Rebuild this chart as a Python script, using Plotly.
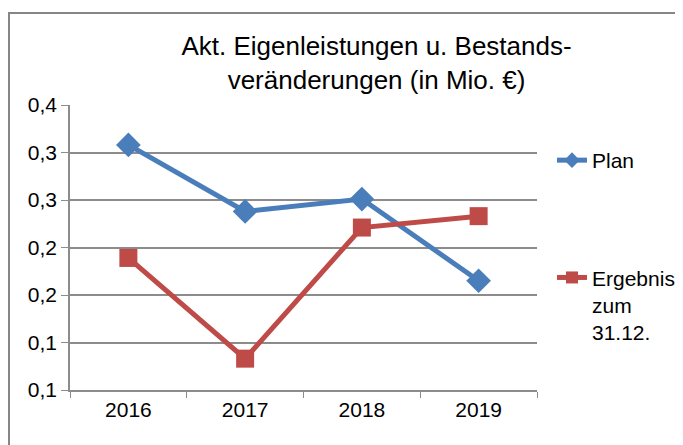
import plotly.graph_objects as go

years = ["2016", "2017", "2018", "2019"]
plan = [0.358, 0.288, 0.301, 0.215]
ergebnis = [0.239, 0.133, 0.271, 0.283]
y_tickvals = [0.10, 0.15, 0.20, 0.25, 0.30, 0.35, 0.40]
y_ticktext = ["0,1", "0,1", "0,2", "0,2", "0,3", "0,3", "0,4"]

blue = "#4A7EBB"
red = "#BE4B48"
grid = "#8C8C8C"

fig = go.Figure()
fig.add_trace(go.Scatter(
    x=years, y=plan, name="Plan", mode="lines+markers",
    line=dict(color=blue, width=5),
    marker=dict(symbol="diamond", size=19, color=blue),
    legendgroup="a",
))
fig.add_trace(go.Scatter(
    x=years, y=ergebnis, name="Ergebnis<br>zum<br>31.12.", mode="lines+markers",
    line=dict(color=red, width=5),
    marker=dict(symbol="square", size=18, color=red),
    legendgroup="b",
))

# page body has an 8px margin; the figure is a bit wider than the window so the
# legend has room without shrinking the plot area
OFF = 8
W, H = 705, 445 - OFF
L, T, B = 70 - OFF, 105 - OFF, 55
pw = 467
R = W - L - pw
ph = H - T - B


def px(x):  # screen x -> paper
    return (x - OFF - L) / pw


def py(y):  # screen y -> paper
    return (H - B - (y - OFF)) / ph


fig.update_layout(
    width=W, height=H,
    margin=dict(l=L, r=R, t=T, b=B),
    paper_bgcolor="white", plot_bgcolor="white",
    font=dict(family="Liberation Sans, Arial, sans-serif", size=21, color="black"),
    title=dict(
        text="Akt. Eigenleistungen u. Bestands-<br>veränderungen (in Mio. €)",
        x=px(376.5), xref="paper", xanchor="center",
        y=1 - (55 - OFF) / H, yanchor="middle",
        font=dict(size=26, color="black"),
    ),
    showlegend=True,
    legend=dict(
        x=px(552), y=py(140), xanchor="left", yanchor="top",
        font=dict(size=21), valign="top",
        tracegroupgap=87, bgcolor="rgba(0,0,0,0)",
        itemsizing="constant",
    ),
    xaxis=dict(
        type="category", range=[-0.5, 3.5],
        showgrid=False, showline=True, linecolor=grid, linewidth=1.5,
        ticks="outside", tickson="boundaries", ticklen=6, tickcolor=grid,
        tickfont=dict(size=21), zeroline=False,
    ),
    yaxis=dict(
        range=[0.10, 0.40], tickvals=y_tickvals, ticktext=y_ticktext,
        showgrid=True, gridcolor=grid, gridwidth=1.5,
        showline=True, linecolor=grid, linewidth=1.5,
        ticks="outside", ticklen=7, tickcolor=grid,
        tickfont=dict(size=21), zeroline=False,
    ),
    shapes=[dict(
        type="rect", xref="paper", yref="paper",
        x0=px(9), x1=px(760), y0=py(470), y1=py(13),
        line=dict(color="#868686", width=2), layer="below",
    )],
)

fig.write_html("out.html")
